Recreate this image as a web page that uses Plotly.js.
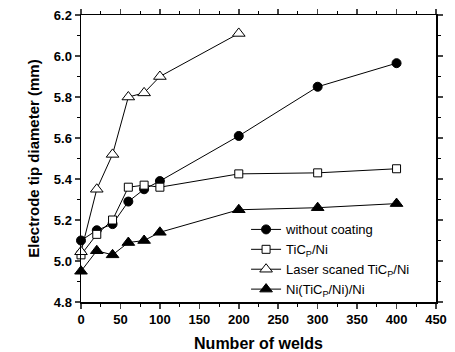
<!DOCTYPE html>
<html><head><meta charset="utf-8">
<script src="https://cdn.plot.ly/plotly-3.0.1.min.js"></script>
<style>body{margin:0;padding:0;background:#fff}#chart{width:455px;height:352px}</style>
</head><body><div id="chart"></div>
<script>
const welds = [0, 20, 40, 60, 80, 100, 200, 300, 400];
const weldsLaser = [0, 20, 40, 60, 80, 100, 200];
const withoutCoating = [5.10, 5.15, 5.18, 5.29, 5.35, 5.39, 5.61, 5.85, 5.965];
const ticpNi = [5.03, 5.13, 5.20, 5.36, 5.37, 5.36, 5.425, 5.43, 5.45];
const laserTicpNi = [5.045, 5.35, 5.52, 5.80, 5.82, 5.90, 6.11];
const niTicpNiNi = [4.95, 5.05, 5.03, 5.09, 5.10, 5.14, 5.25, 5.26, 5.28];
const names = ['without coating', 'TiC<sub>P</sub>/Ni', 'Laser scaned TiC<sub>P</sub>/Ni', 'Ni(TiC<sub>P</sub>/Ni)/Ni'];

function tr(x, y, name, symbol, fill, size) {
  return {x: x, y: y, name: name, type: 'scatter', mode: 'lines+markers',
    line: {color: '#000', width: 1},
    marker: {symbol: symbol, size: size, color: fill, opacity: 1,
      line: {color: '#000', width: 1}}, cliponaxis: false};
}
const data = [
  tr(welds, withoutCoating, names[0], 'circle', '#000', 9),
  tr(welds, ticpNi, names[1], 'square', '#fff', 8),
  tr(weldsLaser, laserTicpNi, names[2], 'triangle-up', '#fff', 11),
  tr(welds, niTicpNiNi, names[3], 'triangle-up', '#000', 11)
];
const FAM = 'Arial, Liberation Sans, sans-serif';
const axfont = {family: FAM, size: 13, color: '#000', weight: 700};
const layout = {
  width: 455, height: 352,
  margin: {l: 81, r: 19, t: 15, b: 50},
  paper_bgcolor: '#fff', plot_bgcolor: '#fff',
  font: {family: FAM, color: '#000'},
  showlegend: true,
  legend: {x: 0.465, y: 0.305, xanchor: 'left', yanchor: 'top', bgcolor: 'rgba(0,0,0,0)',
    font: {size: 13, family: FAM}, tracegroupgap: 0, itemwidth: 30},
  xaxis: {range: [0, 450], tick0: 0, dtick: 50, ticks: 'outside', ticklen: 5, tickwidth: 1.5,
    showline: true, linewidth: 1.5, linecolor: '#000', mirror: 'allticks', showgrid: false, zeroline: false,
    tickfont: axfont, tickprefix: '<b>', ticksuffix: '</b>',
    minor: {dtick: 25, ticks: 'outside', ticklen: 3, tickwidth: 1, tickcolor: '#000'},
    title: {text: 'Number of welds', font: {size: 16, family: FAM, weight: 700}, standoff: 12}},
  yaxis: {range: [4.8, 6.2], tick0: 4.8, dtick: 0.2, tickformat: '.1f', ticks: 'outside', ticklen: 5, tickwidth: 1.5,
    showline: true, linewidth: 1.5, linecolor: '#000', mirror: 'allticks', showgrid: false, zeroline: false,
    tickfont: axfont, tickprefix: '<b>', ticksuffix: '</b>',
    minor: {dtick: 0.1, ticks: 'outside', ticklen: 3, tickwidth: 1, tickcolor: '#000'},
    title: {text: 'Electrode tip diameter (mm)', font: {size: 15, family: FAM, weight: 700}, standoff: 10}}
};
Plotly.newPlot('chart', data, layout, {displayModeBar: false, staticPlot: true});
</script></body></html>
